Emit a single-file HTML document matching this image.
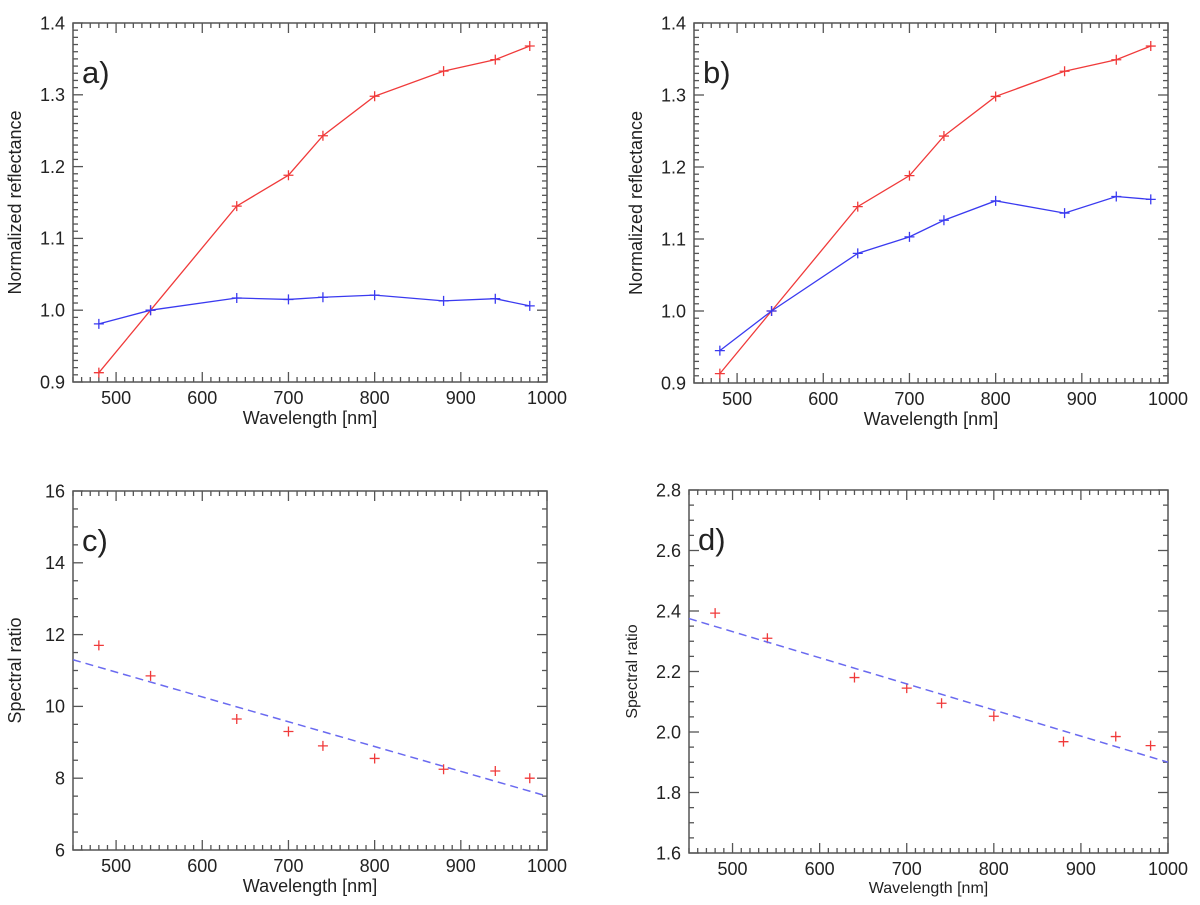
<!DOCTYPE html>
<html><head><meta charset="utf-8"><style>
html,body{margin:0;padding:0;background:#fff;width:1200px;height:905px;overflow:hidden}
text{font-family:"Liberation Sans",sans-serif;fill:#222}
</style></head><body>
<svg id="fig" width="1200" height="905" xmlns="http://www.w3.org/2000/svg"></svg>
<script>
const wavelengths=[480,540,640,700,740,800,880,940,980];
const aRed=[0.913,1.0,1.145,1.188,1.243,1.298,1.333,1.349,1.368];
const aBlue=[0.981,1.0,1.017,1.015,1.018,1.021,1.013,1.016,1.006];
const bRed=[0.913,1.0,1.145,1.188,1.243,1.298,1.333,1.349,1.368];
const bBlue=[0.945,1.0,1.080,1.103,1.126,1.153,1.136,1.159,1.155];
const cRatio=[11.7,10.85,9.65,9.3,8.9,8.55,8.25,8.2,8.0];
const cFit=[11.3,7.5];
const dRatio=[2.393,2.31,2.18,2.145,2.095,2.052,1.968,1.985,1.955];
const dFit=[2.375,1.9];
const fitX=[450,1000];
const xTicks=[500,600,700,800,900,1000];
const abYTicks=[0.9,1.0,1.1,1.2,1.3,1.4];
const cYTicks=[6,8,10,12,14,16];
const dYTicks=[1.6,1.8,2.0,2.2,2.4,2.6,2.8];

const svg=document.getElementById('fig');
const NS='http://www.w3.org/2000/svg';
function el(tag,attrs,parent){const e=document.createElementNS(NS,tag);for(const k in attrs)e.setAttribute(k,attrs[k]);(parent||svg).appendChild(e);return e;}

function panel(o){
  const g=el('g',{});
  
  
  const X=v=>o.l+(v-450)/(1000-450)*(o.r-o.l);
  const Y=v=>o.b-(v-o.ymin)/(o.ymax-o.ymin)*(o.b-o.t);
  const fr=el('rect',{x:o.l,y:o.t,width:o.r-o.l,height:o.b-o.t,fill:'none',stroke:'#555','stroke-width':1.5},g);
  
  
  const tk=el('g',{stroke:'#555','stroke-width':1.3},g);
  
  
  for(let v=450;v<=1000;v+=10){
    const len=(v%100===0)?10:5;const x=X(v);
    el('line',{x1:x,y1:o.b,x2:x,y2:o.b-len},tk);
    el('line',{x1:x,y1:o.t,x2:x,y2:o.t+len},tk);
  }
  const n=Math.round((o.ymax-o.ymin)/o.minor);
  for(let i=0;i<=n;i++){
    const v=o.ymin+i*o.minor;const y=Y(v);
    const maj=Math.abs((v-o.ymin)/o.major-Math.round((v-o.ymin)/o.major))<1e-6;
    const len=maj?10:5;
    el('line',{x1:o.l,y1:y,x2:o.l+len,y2:y},tk);
    el('line',{x1:o.r,y1:y,x2:o.r-len,y2:y},tk);
  }
  xTicks.forEach(v=>{const t=el('text',{x:X(v),y:o.b+o.fs+4,'text-anchor':'middle','font-size':o.fs},g);t.textContent=v;
    });
  o.yticks.forEach(v=>{const t=el('text',{x:o.l-8,y:Y(v)+o.fs*0.35,'text-anchor':'end','font-size':o.fs},g);t.textContent=o.fmt(v);
    });
  const xt=el('text',{x:(o.l+o.r)/2,y:o.b+o.fs+o.tfs+6,'text-anchor':'middle','font-size':o.tfs},g);xt.textContent='Wavelength [nm]';
  
  const yx=o.l-52,yy=(o.t+o.b)/2;
  const yt=el('text',{x:yx,y:yy,'text-anchor':'middle','font-size':o.tfs,transform:`rotate(-90 ${yx} ${yy})`},g);yt.textContent=o.ytitle;
  
  const lb=el('text',{x:o.l+9,y:o.t+60,'font-size':31},g);lb.textContent=o.label;
  
  o.series.forEach(s=>{
    const pts=wavelengths.map((w,i)=>[X(w),Y(s.vals[i])]);
    if(s.line){const pl=el('polyline',{points:pts.map(p=>p.join(',')).join(' '),fill:'none',stroke:s.color,'stroke-width':1.3},g);
      }
    pts.forEach(p=>{const m=el('path',{d:`M${p[0]-5},${p[1]}h10M${p[0]},${p[1]-5}v10`,stroke:s.color,'stroke-width':1.3},g);
      });
  });
  if(o.fit){const f=el('line',{x1:X(fitX[0]),y1:Y(o.fit[0]),x2:X(fitX[1]),y2:Y(o.fit[1]),stroke:'#6a6af0','stroke-width':1.5,'stroke-dasharray':'8,5'},g);
    }
}
const f1=v=>v.toFixed(1);
panel({name:'panel-a',l:73,r:547,t:23,b:382,ymin:0.9,ymax:1.4,major:0.1,minor:0.01,yticks:abYTicks,fmt:f1,fs:18,tfs:18,
  ytitle:'Normalized reflectance',label:'a)',series:[{name:'red-series',vals:aRed,color:'#f03a3a',line:true},{name:'blue-series',vals:aBlue,color:'#3a3af0',line:true}]});
panel({name:'panel-b',l:694,r:1168,t:23,b:383,ymin:0.9,ymax:1.4,major:0.1,minor:0.01,yticks:abYTicks,fmt:f1,fs:18,tfs:18,
  ytitle:'Normalized reflectance',label:'b)',series:[{name:'red-series',vals:bRed,color:'#f03a3a',line:true},{name:'blue-series',vals:bBlue,color:'#3a3af0',line:true}]});
panel({name:'panel-c',l:73,r:547,t:491,b:850,ymin:6,ymax:16,major:2,minor:0.5,yticks:cYTicks,fmt:v=>String(v),fs:18,tfs:18,
  ytitle:'Spectral ratio',label:'c)',fit:cFit,series:[{name:'ratio',vals:cRatio,color:'#f03a3a',line:false}]});
panel({name:'panel-d',l:689,r:1168,t:490,b:853,ymin:1.6,ymax:2.8,major:0.2,minor:0.05,yticks:dYTicks,fmt:f1,fs:18,tfs:16,
  ytitle:'Spectral ratio',label:'d)',fit:dFit,series:[{name:'ratio',vals:dRatio,color:'#f03a3a',line:false}]});
</script>
</body></html>
